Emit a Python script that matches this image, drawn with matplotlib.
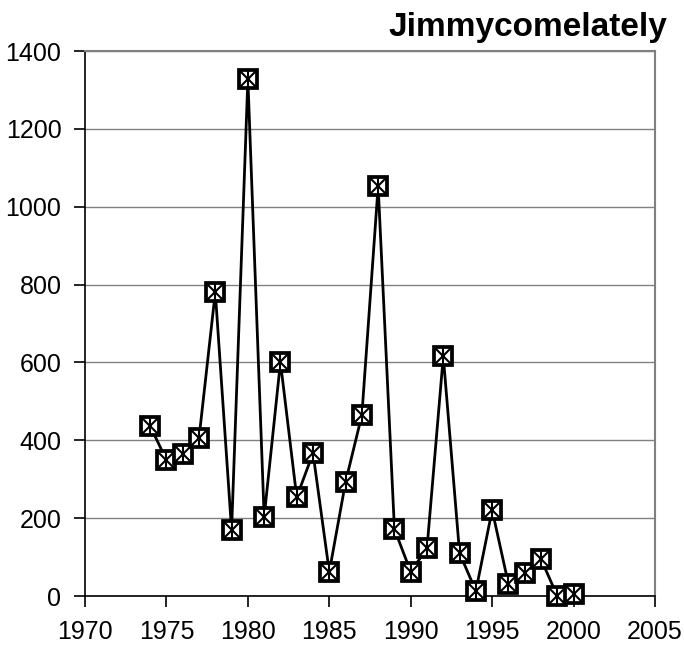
import matplotlib
matplotlib.use("Agg")
import matplotlib.pyplot as plt

years = [1974, 1975, 1976, 1977, 1978, 1979, 1980, 1981, 1982, 1983, 1984,
         1985, 1986, 1987, 1988, 1989, 1990, 1991, 1992, 1993, 1994, 1995,
         1996, 1997, 1998, 1999, 2000]
counts = [437, 349, 365, 406, 781, 170, 1328, 203, 601, 254, 367,
          62, 293, 465, 1053, 172, 62, 123, 616, 110, 13, 221,
          31, 59, 95, 0, 5]

plt.rcParams['font.family'] = ['Liberation Sans', 'DejaVu Sans']

fig = plt.figure(figsize=(6.84, 6.47), dpi=100)
ax = fig.add_axes([0.1243, 0.0788, 0.8333, 0.8423])

ax.plot(years, counts, color='black', lw=2, zorder=3, clip_on=False)
# square marker with an X and a vertical bar inside
ax.plot(years, counts, ls='none', marker='s', ms=13.5, mfc='white', mec='black',
        mew=2.7, zorder=4, clip_on=False)
ax.plot(years, counts, ls='none', marker='x', ms=12, mec='black', mew=1.5,
        zorder=5, clip_on=False)
ax.plot(years, counts, ls='none', marker='|', ms=12, mec='black', mew=1.5,
        zorder=5, clip_on=False)

ax.set_xlim(1970, 2005)
ax.set_ylim(0, 1400)
ax.set_xticks(range(1970, 2006, 5))
ax.set_yticks(range(0, 1401, 200))
ax.yaxis.grid(True, color='#808080', lw=1)
ax.set_axisbelow(True)

for s in ['top', 'right']:
    ax.spines[s].set_color('#808080')
    ax.spines[s].set_linewidth(1.5)
for s in ['left', 'bottom']:
    ax.spines[s].set_color('black')
    ax.spines[s].set_linewidth(1.2)

ax.tick_params(direction='out', length=8, width=1.2, labelsize=18, pad=9)

fig.text(0.975, 0.958, 'Jimmycomelately', ha='right', va='center',
         fontsize=24, fontweight='bold')

fig.savefig('out.png', dpi=100)
